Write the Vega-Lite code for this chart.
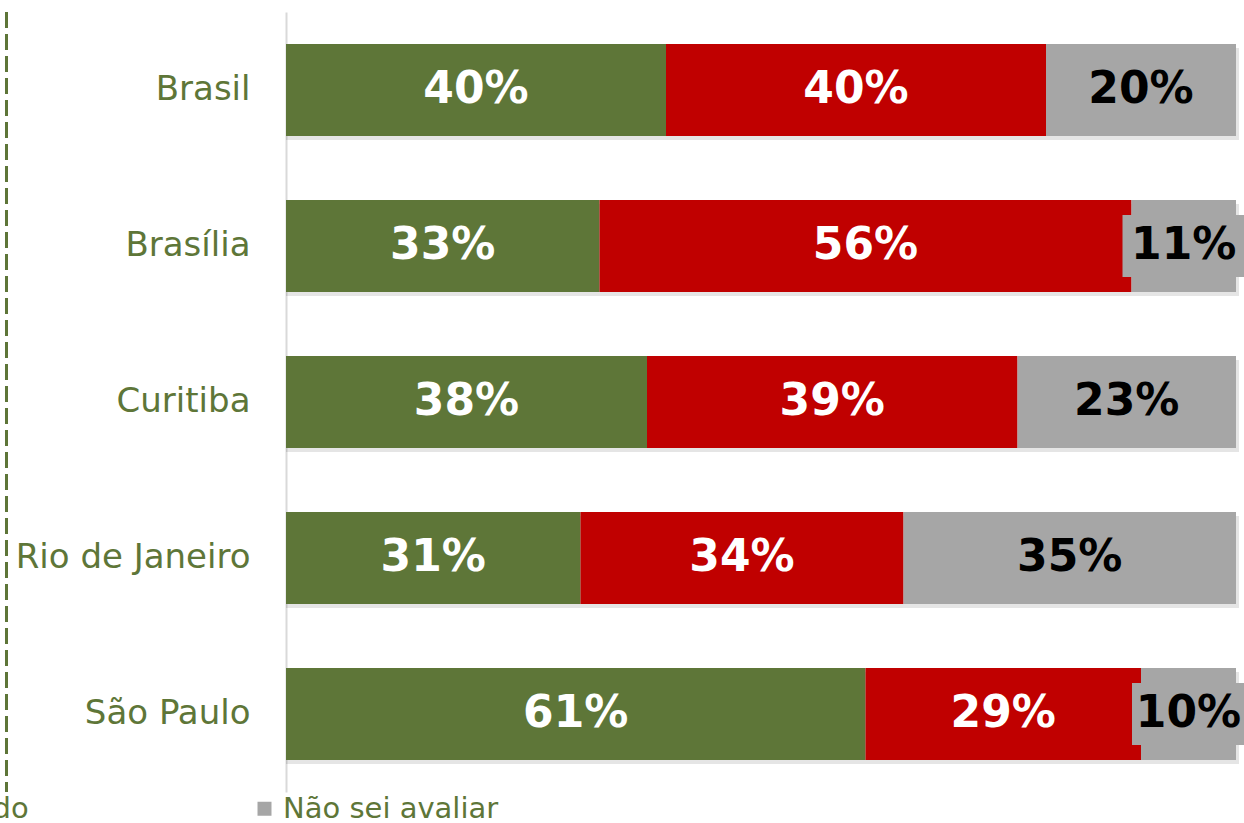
{
  "$schema": "https://vega.github.io/schema/vega-lite/v6.json",
  "autosize": "none",
  "width": 950,
  "height": 780,
  "padding": {"left": 286, "top": 12, "right": 8, "bottom": 31},
  "background": "white",
  "config": {"view": {"stroke": null}, "font": "DejaVu Sans"},
  "data": {
    "values": [
      {"cidade": "Brasil", "resp": "Concordo", "v": 0.40},
      {"cidade": "Brasil", "resp": "Discordo", "v": 0.40},
      {"cidade": "Brasil", "resp": "Não sei avaliar", "v": 0.20},
      {"cidade": "Brasília", "resp": "Concordo", "v": 0.33},
      {"cidade": "Brasília", "resp": "Discordo", "v": 0.56},
      {"cidade": "Brasília", "resp": "Não sei avaliar", "v": 0.11},
      {"cidade": "Curitiba", "resp": "Concordo", "v": 0.38},
      {"cidade": "Curitiba", "resp": "Discordo", "v": 0.39},
      {"cidade": "Curitiba", "resp": "Não sei avaliar", "v": 0.23},
      {"cidade": "Rio de Janeiro", "resp": "Concordo", "v": 0.31},
      {"cidade": "Rio de Janeiro", "resp": "Discordo", "v": 0.34},
      {"cidade": "Rio de Janeiro", "resp": "Não sei avaliar", "v": 0.35},
      {"cidade": "São Paulo", "resp": "Concordo", "v": 0.61},
      {"cidade": "São Paulo", "resp": "Discordo", "v": 0.29},
      {"cidade": "São Paulo", "resp": "Não sei avaliar", "v": 0.10}
    ]
  },
  "layer": [
    {
      "mark": {"type": "bar", "color": "#000000", "opacity": 0.1, "xOffset": 3, "yOffset": 4, "clip": false},
      "encoding": {
        "y": {
          "field": "cidade",
          "type": "nominal",
          "sort": null,
          "scale": {"paddingInner": 0.41, "paddingOuter": 0.205},
          "axis": {
            "title": null,
            "ticks": false,
            "tickSize": 0,
            "labelPadding": 36,
            "labelFontSize": 34,
            "labelLimit": 500,
            "labelColor": "#5E7638",
            "labelFont": "DejaVu Sans",
            "domainColor": "#D9D9D9",
            "domainWidth": 2
          }
        },
        "x": {"aggregate": "sum", "field": "v", "type": "quantitative", "scale": {"domain": [0, 1]}, "axis": null}
      }
    },
    {
      "mark": {"type": "bar"},
      "encoding": {
        "y": {"field": "cidade", "type": "nominal", "sort": null},
        "x": {"field": "v", "type": "quantitative", "stack": "zero", "scale": {"domain": [0, 1]}, "axis": null},
        "color": {
          "field": "resp",
          "type": "nominal",
          "scale": {"domain": ["Concordo", "Discordo", "Não sei avaliar"], "range": ["#5E7638", "#C00000", "#A6A6A6"]},
          "legend": {
            "title": null,
            "orient": "none",
            "direction": "horizontal",
            "legendX": -809,
            "legendY": 782,
            "columnPadding": 221,
            "symbolType": "square",
            "symbolSize": 196,
            "symbolStrokeWidth": 0,
            "symbolOpacity": 1,
            "labelOffset": 4,
            "labelFontSize": 29,
            "labelFont": "DejaVu Sans",
            "labelColor": "#5E7638",
            "labelLimit": 400
          }
        },
        "order": {"field": "resp", "sort": "ascending"}
      }
    },
    {
      "transform": [
        {"stack": "v", "groupby": ["cidade"], "sort": [{"field": "resp", "order": "ascending"}], "as": ["v0", "v1"]},
        {"filter": "datum.resp === 'Não sei avaliar' && datum.v < 0.15"}
      ],
      "mark": {"type": "bar", "color": "#A6A6A6", "xOffset": -9, "x2Offset": 10, "size": 62, "clip": false},
      "encoding": {
        "y": {"field": "cidade", "type": "nominal", "sort": null},
        "x": {"field": "v0", "type": "quantitative", "scale": {"domain": [0, 1]}},
        "x2": {"field": "v1"}
      }
    },
    {
      "mark": {"type": "text", "font": "DejaVu Sans", "fontWeight": "bold", "fontSize": 44, "baseline": "middle", "align": "center"},
      "encoding": {
        "y": {"field": "cidade", "type": "nominal", "sort": null},
        "x": {"field": "v", "type": "quantitative", "stack": "zero", "bandPosition": 0.5, "scale": {"domain": [0, 1]}},
        "detail": {"field": "resp"},
        "order": {"field": "resp", "sort": "ascending"},
        "text": {"field": "v", "type": "quantitative", "format": ".0%"},
        "color": {"condition": {"test": "datum.resp === 'Não sei avaliar'", "value": "#000000"}, "value": "#FFFFFF"}
      }
    },
    {
      "mark": {"type": "rule", "color": "#5E7638", "strokeWidth": 2, "strokeDash": [16, 6], "clip": false},
      "encoding": {"x": {"datum": -0.294}}
    }
  ]
}
